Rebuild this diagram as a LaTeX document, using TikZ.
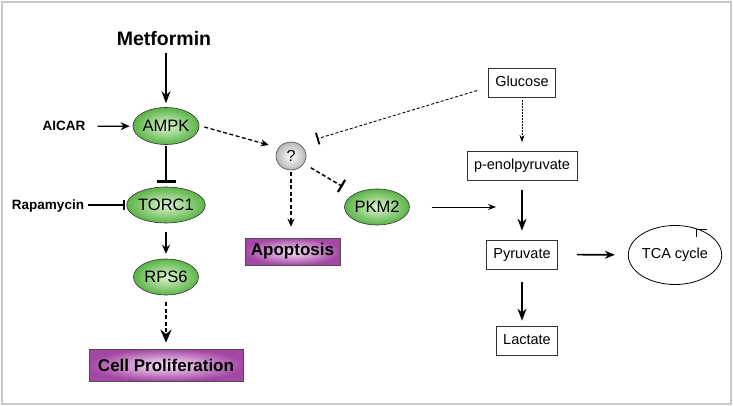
\documentclass[tikz,border=0pt]{standalone}
\usepackage{fontspec}
\setmainfont{Liberation Sans}
\usetikzlibrary{arrows.meta,shapes.geometric,calc}
\definecolor{grnin}{RGB}{222,243,208}
\definecolor{grnout}{RGB}{90,180,70}
\definecolor{purin}{RGB}{250,228,250}
\definecolor{purout}{RGB}{165,72,165}
\definecolor{framegray}{RGB}{200,200,200}
\begin{document}
\begin{tikzpicture}[x=1pt,y=-1pt,
  prot/.style={ellipse, draw=black!80, line width=0.6pt, inner color=grnin, outer color=grnout,
    minimum width=65pt, minimum height=37pt, inner sep=0pt, font=\fontsize{16.5}{16.5}\selectfont},
  outcome/.style={rectangle, draw=black!70, line width=0.6pt, inner color=purin, outer color=purout,
    inner sep=0pt, font=\bfseries\fontsize{17}{17}\selectfont},
  metab/.style={rectangle, draw=black!80, line width=0.6pt, inner xsep=7pt, inner ysep=0pt,
    minimum height=29pt, text height=10.5pt, text depth=3pt, font=\fontsize{14.5}{14.5}\selectfont},
  drug/.style={inner sep=0pt, anchor=base, font=\bfseries\fontsize{13.5}{13.5}\selectfont},
  arr/.style={line width=1.3pt, -{Stealth[length=9pt,width=8pt]}},
  dasharr/.style={line width=1.3pt, dash pattern=on 4pt off 2.5pt, -{Stealth[length=8pt,width=7pt]}},
  inhib/.style 2 args={line width=1.3pt, -{Bar[width=#1,line width=#2]}}
]
\useasboundingbox (0,0) rectangle (733,406);
\draw[framegray, line width=1.5pt] (2,2) rectangle (731,404);

% nodes
\node[inner sep=0pt, anchor=base, font=\bfseries\fontsize{19.5}{19.5}\selectfont] (met) at (164,46) {Metformin};
\node[prot] (ampk) at (166,126) {AMPK};
\node[drug] (aicar) at (64,131) {AICAR};
\node[prot, minimum height=36pt] (torc) at (166,205) {TORC1};
\node[drug] (rapa) at (48,210) {Rapamycin};
\node[prot, minimum height=36pt] (rps) at (166,277) {RPS6};
\node[outcome, minimum width=154pt, minimum height=32pt] (prolif) at (166,365) {Cell Proliferation};
\node[ellipse, draw=black!70, line width=0.6pt, inner color=white, outer color=black!28,
  minimum width=30pt, minimum height=28pt, inner sep=0pt, font=\fontsize{16}{16}\selectfont] (q) at (291,156) {?};
\node[outcome, minimum width=95pt, minimum height=27pt] (apop) at (292.5,251.5) {Apoptosis};
\node[prot, minimum height=36pt] (pkm) at (377,207) {PKM2};
\node[metab] (gluc) at (522,82.5) {Glucose};
\node[metab] (penol) at (522,166) {p-enolpyruvate};
\node[metab] (pyr) at (522,254.5) {Pyruvate};
\node[metab] (lac) at (527,340.5) {Lactate};
\node[ellipse, draw, line width=0.8pt, minimum width=76pt, minimum height=59pt, inner sep=0pt,
  font=\fontsize{14.5}{14.5}\selectfont] (tca) at (675,255) {TCA cycle};
\coordinate (pj) at (496,207);

% left pathway
\draw[arr, line width=1.5pt, -{Stealth[length=12pt,width=9pt]}, shorten <=7pt, shorten >=4pt]
  (met.south -| ampk) -- (ampk);
\draw[arr, shorten <=12pt, shorten >=3pt] (aicar.east) -- (ampk);
\draw[inhib={19pt}{3pt}, line width=2.5pt, shorten <=1pt, shorten >=4pt] (ampk) -- (torc);
\draw[inhib={10pt}{2pt}, shorten <=4pt, shorten >=1.5pt] (rapa.east |- torc.west) -- (torc.west);
\draw[arr, shorten <=9pt, shorten >=5pt] (torc) -- (rps);
\draw[line width=2.2pt, dash pattern=on 4pt off 2.5pt, -{Stealth[length=13pt,width=11pt]},
  shorten <=7pt, shorten >=6pt] (rps) -- (prolif);

% middle
\draw[dasharr] ($(ampk.east)+(5,1)$) -- ($(q.west)+(-7,-11)$);
\draw[dasharr, shorten <=2pt, shorten >=11pt] (q.south) -- (q.south |- apop.north);
\draw[inhib={14pt}{2.2pt}, line width=1.5pt, dash pattern=on 4pt off 2.5pt, shorten <=8pt, shorten >=14pt] (q) -- (pkm);
\draw[inhib={12pt}{1.8pt}, line width=0.9pt, dash pattern=on 3pt off 2pt] ($(gluc.west)+(-11,8)$) -- ($(q.north east)+(15,-7)$);
\draw[line width=1pt, -{Stealth[length=8pt,width=6pt]}, shorten <=22pt] (pkm) -- (pj);

% right column
\draw[line width=1pt, dash pattern=on 1.8pt off 1.2pt, -{Stealth[length=7pt,width=5pt]},
  shorten <=3pt, shorten >=9pt] (gluc) -- (penol);
\draw[line width=1.8pt, -{Stealth[length=12pt,width=9pt]}, shorten <=9pt, shorten >=9pt] (penol) -- (pyr);
\draw[line width=1.8pt, -{Stealth[length=12pt,width=9pt]}, shorten <=13pt, shorten >=5pt]
  (pyr.south) -- (pyr.south |- lac.north);
\draw[line width=1.6pt, -{Stealth[length=10pt,width=8pt]}, shorten <=19pt, shorten >=13pt] (pyr) -- (tca);
\draw[line width=1pt] ($(tca)+(21,-18)$) -- ++(0,-8) -- ++(11,0);
\end{tikzpicture}
\end{document}
